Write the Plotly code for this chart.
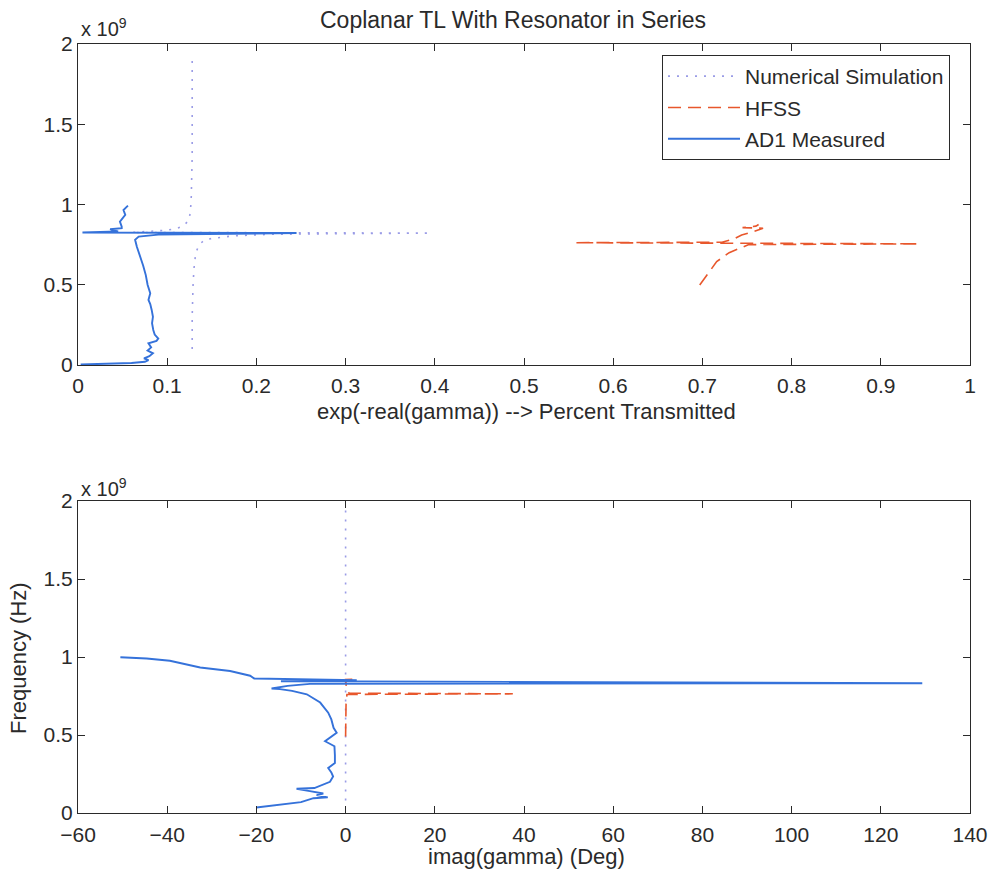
import plotly.graph_objects as go

# ---------------- data (frequency in units of 1e9 Hz) ----------------
# Top panel: exp(-real(gamma)) vs frequency
sim_top_x = [0.128, 0.128, 0.129, 0.130, 0.132, 0.136, 0.142, 0.152, 0.175, 0.220, 0.395,
             0.060, 0.100, 0.110, 0.118, 0.124, 0.126, 0.127, 0.128, 0.128, 0.128]
sim_top_f = [0.10, 0.30, 0.50, 0.60, 0.70, 0.75, 0.78, 0.79, 0.805, 0.815, 0.822,
             0.826, 0.840, 0.850, 0.866, 0.90, 0.95, 1.05, 1.30, 1.60, 1.90]

hfss_top_x = [0.697, 0.706, 0.716, 0.730, 0.742, 0.752, 0.942, 0.557, 0.722, 0.735,
              0.744, 0.757, 0.768, 0.745, 0.760, 0.763]
hfss_top_f = [0.498, 0.570, 0.644, 0.700, 0.727, 0.750, 0.755, 0.762, 0.765, 0.785,
              0.810, 0.830, 0.852, 0.856, 0.865, 0.875]

meas_top_x = [0.003, 0.030, 0.060, 0.075, 0.079, 0.074, 0.080, 0.084, 0.078, 0.082,
              0.079, 0.088, 0.090, 0.086, 0.0844, 0.083, 0.084, 0.0826, 0.081, 0.079,
              0.081, 0.078, 0.076, 0.073, 0.069, 0.066, 0.064, 0.068, 0.090, 0.245,
              0.005, 0.030, 0.045, 0.040, 0.036, 0.049, 0.049, 0.047, 0.053, 0.051, 0.056]
meas_top_f = [0.003, 0.006, 0.012, 0.020, 0.030, 0.042, 0.055, 0.073, 0.090, 0.110,
              0.135, 0.150, 0.165, 0.190, 0.218, 0.260, 0.300, 0.343, 0.380, 0.405,
              0.447, 0.500, 0.560, 0.620, 0.680, 0.737, 0.780, 0.800, 0.812, 0.822,
              0.826, 0.829, 0.832, 0.838, 0.846, 0.852, 0.862, 0.893, 0.935, 0.966, 0.993]

# Bottom panel: imag(gamma) in degrees vs frequency
sim_bot_x = [0.0, 0.0, 0.0, 0.0, 0.0, 0.0, 0.0]
sim_bot_f = [0.08, 0.50, 0.80, 0.83, 0.86, 1.40, 1.95]

hfss_bot_x = [0.0, 0.05, 0.1, 0.3, 37.5, 0.8, 0.2, 0.1, 0.0, 2.5]
hfss_bot_f = [0.49, 0.60, 0.70, 0.76, 0.764, 0.768, 0.79, 0.83, 0.855, 0.858]

meas_bot_x = [-20.0, -17.0, -14.7, -10.0, -7.2, -4.0, -6.5, -5.0, -8.0, -11.0,
              -7.0, -4.5, -3.5, -2.8, -3.2, -3.9, -2.4, -2.4, -2.5, -4.6,
              -2.0, -2.7, -3.2, -3.9, -5.7, -8.7, -12.0, -14.7, -16.6, -13.0,
              -8.0, 129.3, -14.5, 2.5, -20.5, -21.4, -25.9, -32.6, -39.4, -44.6, -50.5]
meas_bot_f = [0.035, 0.045, 0.052, 0.070, 0.095, 0.100, 0.115, 0.125, 0.140, 0.155,
              0.160, 0.185, 0.200, 0.234, 0.260, 0.288, 0.320, 0.370, 0.428, 0.460,
              0.514, 0.546, 0.600, 0.643, 0.708, 0.761, 0.783, 0.794, 0.798, 0.815,
              0.828, 0.832, 0.845, 0.852, 0.862, 0.880, 0.910, 0.933, 0.976, 0.990, 0.998]

top_xticks = [0, 0.1, 0.2, 0.3, 0.4, 0.5, 0.6, 0.7, 0.8, 0.9, 1]
top_xtext = ["0", "0.1", "0.2", "0.3", "0.4", "0.5", "0.6", "0.7", "0.8", "0.9", "1"]
bot_xticks = [-60, -40, -20, 0, 20, 40, 60, 80, 100, 120, 140]
freq_ticks = [0, 0.5, 1, 1.5, 2]
freq_text = ["0", "0.5", "1", "1.5", "2"]

# ---------------- layout geometry (pixels) ----------------
W, H = 993, 872
L, R, T, B = 78, 970, 44, 813          # outer plot-area box
TOP_BOTTOM, BOT_TOP = 365, 501         # inner edges of the two panels
PW, PH = R - L, B - T

FONT = "Liberation Sans"
INK = "#2a2a2a"
C_SIM = "#9a9ce6"
C_HFSS = "#e8572c"
C_MEAS = "#3572da"


def px_x(p):
    return (p - L) / PW


def px_y(p):
    return (B - p) / PH


fig = go.Figure()

series = [
    ("Numerical Simulation", sim_top_x, sim_top_f, sim_bot_x, sim_bot_f,
     dict(color=C_SIM, width=1.6, dash="2px,7px")),
    ("HFSS", hfss_top_x, hfss_top_f, hfss_bot_x, hfss_bot_f,
     dict(color=C_HFSS, width=1.6, dash="13px,7px")),
    ("AD1 Measured", meas_top_x, meas_top_f, meas_bot_x, meas_bot_f,
     dict(color=C_MEAS, width=1.9)),
]

for name, tx, tf, bx, bf, line in series:
    fig.add_trace(go.Scatter(x=tx, y=tf, mode="lines", name=name, line=line,
                             legendgroup=name, xaxis="x", yaxis="y"))
    fig.add_trace(go.Scatter(x=bx, y=bf, mode="lines", name=name, line=line,
                             legendgroup=name, showlegend=False,
                             xaxis="x2", yaxis="y2"))

axis_common = dict(
    showline=True, linecolor=INK, linewidth=1, mirror="allticks",
    ticks="inside", ticklen=7, tickcolor=INK, tickwidth=1,
    showgrid=False, zeroline=False, automargin=False,
    tickfont=dict(family=FONT, size=21, color=INK),
)

fig.update_layout(
    template="none",
    width=W, height=H,
    margin=dict(l=L, r=W - R, t=T, b=H - B, pad=0),
    paper_bgcolor="white", plot_bgcolor="white",
    font=dict(family=FONT, color=INK),
    xaxis=dict(domain=[0, 1], anchor="y", range=[0, 1], ticklabelstandoff=2,
               tickvals=top_xticks, ticktext=top_xtext, **axis_common),
    yaxis=dict(domain=[px_y(TOP_BOTTOM), 1], anchor="x", range=[0, 2],
               tickvals=freq_ticks, ticktext=freq_text, **axis_common),
    xaxis2=dict(domain=[0, 1], anchor="y2", range=[-60, 140], ticklabelstandoff=3,
                tickvals=bot_xticks, **axis_common),
    yaxis2=dict(domain=[0, px_y(BOT_TOP)], anchor="x2", range=[0, 2],
                tickvals=freq_ticks, ticktext=freq_text, **axis_common),
    showlegend=True,
    legend=dict(x=px_x(662), y=px_y(55), xanchor="left", yanchor="top",
                bgcolor="white", bordercolor=INK, borderwidth=1,
                font=dict(family=FONT, size=21, color=INK),
                itemwidth=72, tracegroupgap=1),
)

annotations = [
    dict(text="Coplanar TL With Resonator in Series", x=px_x(513), y=px_y(20),
         font=dict(size=23)),
    dict(text="x 10<sup>9</sup>", x=px_x(79), y=px_y(27), xanchor="left",
         font=dict(size=20)),
    dict(text="x 10<sup>9</sup>", x=px_x(79), y=px_y(488), xanchor="left",
         font=dict(size=20)),
    dict(text="exp(-real(gamma)) --> Percent Transmitted", x=px_x(526), y=px_y(411),
         font=dict(size=22)),
    dict(text="imag(gamma) (Deg)", x=px_x(526), y=px_y(857), font=dict(size=22)),
    dict(text="Frequency (Hz)", x=px_x(18), y=px_y(658), textangle=-90,
         font=dict(size=22)),
]
for a in annotations:
    a.setdefault("xref", "paper")
    a.setdefault("yref", "paper")
    a.setdefault("showarrow", False)
    a.setdefault("xanchor", "center")
    a.setdefault("yanchor", "middle")
    a["font"] = dict(family=FONT, color=INK, **a["font"])
fig.update_layout(annotations=annotations)

fig.write_html("out.html")
